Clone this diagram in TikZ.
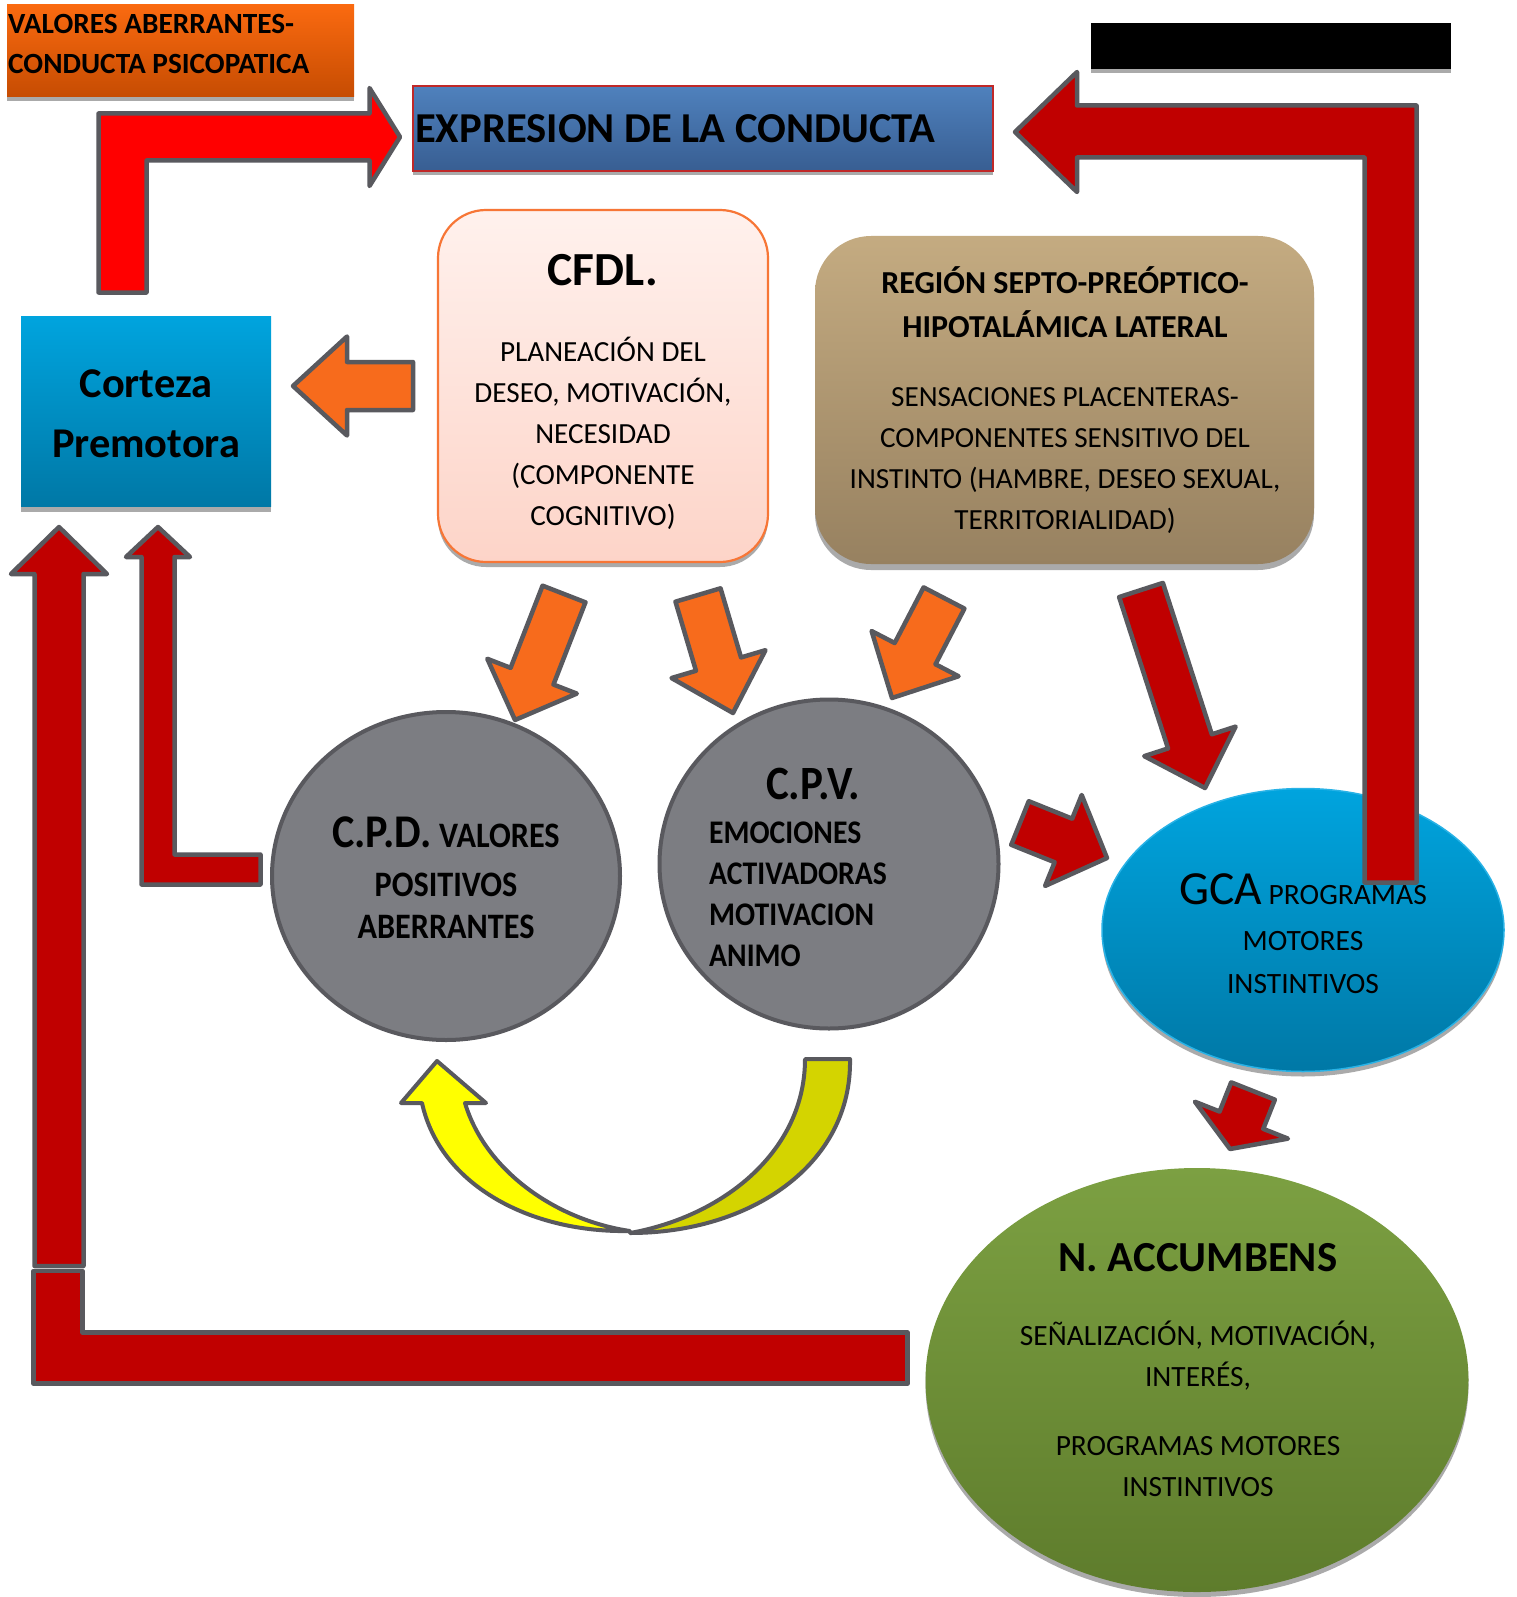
\documentclass[tikz,border=0pt]{standalone}
\usepackage{fontspec}
\setmainfont{Carlito}
\newfontfamily\narrowfont[FakeStretch=0.9]{Carlito}
\usetikzlibrary{shapes.geometric,calc,shadows}

\definecolor{edgegray}{RGB}{89,89,94}
\definecolor{shadowgray}{RGB}{170,170,170}
\definecolor{arroworange}{RGB}{247,107,28}
\definecolor{arrowred}{RGB}{192,0,0}
\definecolor{brightred}{RGB}{255,0,0}
\definecolor{vabtop}{RGB}{250,106,16}
\definecolor{vabbot}{RGB}{198,76,2}
\definecolor{exprtop}{RGB}{79,129,189}
\definecolor{exprbot}{RGB}{56,94,146}
\definecolor{exprline}{RGB}{192,40,40}
\definecolor{cyantop}{RGB}{0,164,222}
\definecolor{cyanbot}{RGB}{0,120,166}
\definecolor{gcaline}{RGB}{40,178,230}
\definecolor{cfdltop}{RGB}{255,241,237}
\definecolor{cfdlbot}{RGB}{253,212,200}
\definecolor{cfdlline}{RGB}{247,118,54}
\definecolor{regtop}{RGB}{196,171,129}
\definecolor{regbot}{RGB}{151,129,96}
\definecolor{discgray}{RGB}{124,125,130}
\definecolor{acctop}{RGB}{124,160,66}
\definecolor{accbot}{RGB}{94,124,44}
\definecolor{loopyellow}{RGB}{255,255,0}
\definecolor{loopolive}{RGB}{212,212,0}

\newcommand\fsz[2]{\fontsize{#1}{#2}\selectfont}

% straight block arrow: style, tail, tip, half shaft, half head, head length
\newcommand\blockarrow[6]{%
  \coordinate (ba-h) at ($(#3)!#6!(#2)$);
  \draw[#1] ($(#2)!#4!90:(#3)$) -- ($(ba-h)!#4!90:(#3)$) -- ($(ba-h)!#5!90:(#3)$)
    -- (#3) -- ($(ba-h)!#5!-90:(#3)$) -- ($(ba-h)!#4!-90:(#3)$) -- ($(#2)!#4!-90:(#3)$) -- cycle;
}

\begin{document}
\begin{tikzpicture}[x=1pt, y=-1pt,
  font=\fsz{28}{41},
  shd/.style={drop shadow={shadow xshift=0pt, shadow yshift=-#1, fill=shadowgray, opacity=1}},
  plate/.style={rectangle, inner sep=0pt},
  disc/.style={ellipse, inner sep=0pt, fill=discgray, draw=edgegray, line width=4pt},
  txt/.style={inner sep=0pt, align=center},
  blk/.style={draw=edgegray, line width=4.5pt, line join=round},
  orangeblk/.style={blk, fill=arroworange},
  redblk/.style={blk, fill=arrowred},
]
\fill[white] (0,0) rectangle (1516,1597);
\useasboundingbox (0,0) rectangle (1516,1597);
\clip (0,0) rectangle (1516,1597);

% ---- boxes -------------------------------------------------------------------
\node[plate, minimum width=347, minimum height=92, top color=vabtop, bottom color=vabbot, shd=4pt] (vab) at (180.5,51) {};
\node[plate, minimum width=580, minimum height=85, top color=exprtop, bottom color=exprbot,
      draw=exprline, line width=1.2pt, shd=4pt] (expr) at (703,128.5) {};
\node[plate, minimum width=360, minimum height=46, fill=black, shd=4pt] (blackbar) at (1271,46) {};
\node[plate, minimum width=250, minimum height=190, top color=cyantop, bottom color=cyanbot, shd=6pt] (cortex) at (146,411) {};
\node[plate, rounded corners=48pt, minimum width=330, minimum height=352, top color=cfdltop, bottom color=cfdlbot,
      draw=cfdlline, line width=2.2pt, shd=5pt] (cfdl) at (603,386) {};
\node[plate, rounded corners=56pt, minimum width=499, minimum height=328, top color=regtop, bottom color=regbot, shd=6pt] (region) at (1064.5,400) {};

% ---- ellipses ----------------------------------------------------------------
\node[disc, minimum width=348, minimum height=328] (cpd) at (446,876) {};
\node[disc, minimum width=339, minimum height=329] (cpv) at (829,864) {};
\node[ellipse, inner sep=0pt, minimum width=402, minimum height=283, top color=cyantop, bottom color=cyanbot,
      draw=gcaline, line width=1.5pt, shd=5pt] (gca) at (1303,930) {};
\node[ellipse, inner sep=0pt, minimum width=543, minimum height=424, top color=acctop, bottom color=accbot, shd=5pt] (nacc) at (1197,1380) {};

% ---- bent arrows ---------------------------------------------------------------
% corteza -> expresion
\draw[blk, fill=brightred] (98.5,292.5) -- (98.5,113.5) -- (369.5,113.5) -- (369.5,88) -- (400,137)
  -- (369.5,186) -- (369.5,160.5) -- (146.5,160.5) -- (146.5,292.5) -- cycle;
% gca -> expresion
\draw[redblk] (1015,132) -- (1077,72) -- (1077,105.5) -- (1416.5,105.5) -- (1416.5,882.5)
  -- (1364.5,882.5) -- (1364.5,157.5) -- (1077,157.5) -- (1077,192) -- cycle;
% n. accumbens -> corteza
\draw[redblk] (59,527) -- (107,574) -- (83.5,574) -- (83.5,1266) -- (34.5,1266) -- (34.5,574) -- (11,574) -- cycle;
\draw[redblk] (33.5,1271) -- (82.5,1271) -- (82.5,1332.5) -- (907.5,1332.5) -- (907.5,1383.5) -- (33.5,1383.5) -- cycle;
% c.p.d. -> corteza
\draw[redblk] (158,527) -- (190,557) -- (174.5,557) -- (174.5,854.5) -- (260.5,854.5)
  -- (260.5,884.5) -- (141.5,884.5) -- (141.5,557) -- (126,557) -- cycle;

% ---- c.p.v. -> c.p.d. loop -------------------------------------------------------
\draw[blk, line width=4pt, fill=loopolive] (805,1059) -- (850,1059) .. controls (852,1165) and (750,1233) .. (630,1233)
  .. controls (725,1216) and (805,1150) .. (805,1059) -- cycle;
\draw[blk, line width=4pt, fill=loopyellow] (437,1061) -- (486,1103) -- (465,1103) .. controls (485,1170) and (555,1220) .. (630,1231)
  .. controls (530,1233) and (440,1185) .. (422,1103) -- (401,1103) -- cycle;

% ---- straight arrows -------------------------------------------------------------
\coordinate (o1s) at (564,594);   \coordinate (o1e) at (515,720);
\coordinate (o2s) at (698,595);   \coordinate (o2e) at (733,713);
\coordinate (o3s) at (944,598);   \coordinate (o3e) at (892,698);
\coordinate (o4s) at (413,386);   \coordinate (o4e) at (293,386);
\coordinate (r1s) at (1141,590);  \coordinate (r1e) at (1205,788);
\coordinate (r2s) at (1020,823);  \coordinate (r2e) at (1107,858);
\coordinate (r3s) at (1253,1091); \coordinate (r3e) at (1230,1149);
\blockarrow{orangeblk}{o1s}{o1e}{23pt}{48pt}{47pt}
\blockarrow{orangeblk}{o2s}{o2e}{23.5pt}{49pt}{51pt}
\blockarrow{orangeblk}{o3s}{o3e}{23pt}{49pt}{50pt}
\blockarrow{orangeblk}{o4s}{o4e}{24pt}{49.5pt}{54pt}
\blockarrow{redblk}{r1s}{r1e}{23pt}{48pt}{49pt}
\blockarrow{redblk}{r2s}{r2e}{23.5pt}{49pt}{47pt}
\blockarrow{redblk}{r3s}{r3e}{23.5pt}{50pt}{31pt}

% ---- texts -----------------------------------------------------------------------
\node[txt, anchor=north west, align=left, font=\bfseries\fsz{29.3}{40}] (vab-t) at (8,14) {VALORES ABERRANTES-\\CONDUCTA PSICOPATICA};
\node[txt, anchor=base west, font=\bfseries\fsz{42.6}{48}] (expr-t) at (415,142.5) {EXPRESION DE LA CONDUCTA};
\node[txt, anchor=north, font=\bfseries\fsz{42.4}{60}] (cortex-t) at (146,369) {Corteza\\Premotora};
\node[txt, anchor=north, font=\fsz{29.2}{41}] (cfdl-t) at (603,254)
  {{\bfseries\fsz{47.5}{41}CFDL.}\\[35pt]PLANEACIÓN DEL\\DESEO, MOTIVACIÓN,\\NECESIDAD\\(COMPONENTE\\COGNITIVO)};
\node[txt, anchor=north, font=\fsz{29.2}{41}] (region-t) at (1065,266)
  {{\bfseries\fsz{32}{41}REGIÓN SEPTO-PREÓPTICO-}\\[3pt]{\bfseries\fsz{32}{41}HIPOTALÁMICA LATERAL}\\[28pt]
   SENSACIONES PLACENTERAS-\\COMPONENTES SENSITIVO DEL\\INSTINTO (HAMBRE, DESEO SEXUAL,\\TERRITORIALIDAD)};
\node[txt, anchor=north, font=\narrowfont\bfseries\fsz{35.8}{42}] (cpd-t) at (446,817)
  {{\fsz{46.9}{42}C.P.D.} VALORES\\[7pt]POSITIVOS\\ABERRANTES};
\node[txt, anchor=north west, align=left, font=\narrowfont\bfseries\fsz{33}{41}] (cpv-t) at (709,768)
  {\hspace*{57pt}{\fsz{47.8}{41}C.P.V.}\\[3pt]EMOCIONES\\ACTIVADORAS\\MOTIVACION\\ANIMO};
\node[txt, anchor=north, font=\fsz{29.5}{43}] (gca-t) at (1303,873.5)
  {{\fsz{47.5}{43}GCA} PROGRAMAS\\[3pt]MOTORES\\INSTINTIVOS};
\node[txt, anchor=north, font=\fsz{29.4}{41}] (nacc-t) at (1198,1243)
  {{\bfseries\fsz{42.8}{41}N. ACCUMBENS}\\[33pt]SEÑALIZACIÓN, MOTIVACIÓN,\\INTERÉS,\\[28pt]PROGRAMAS MOTORES\\INSTINTIVOS};
\end{tikzpicture}
\end{document}
